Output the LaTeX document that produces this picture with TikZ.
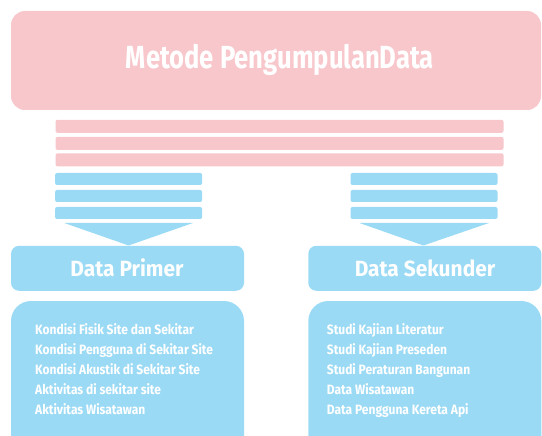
\documentclass[tikz,border=0pt]{standalone}
\usepackage{fontspec}
\setmainfont{Fira Sans}
\newfontfamily\titlefont{Fira Sans}[FakeStretch=0.80]
\newfontfamily\headfont{Fira Sans}[FakeStretch=0.95]
\newfontfamily\itemfont{Fira Sans}[FakeStretch=0.89]
\definecolor{pinkc}{HTML}{F7C7CB}
\definecolor{bluec}{HTML}{9BDAF5}
\begin{document}
\begin{tikzpicture}[x=1pt,y=-1pt,
  box/.style={inner sep=0pt, outer sep=0pt},
  pinkbox/.style={box, fill=pinkc, rounded corners=14pt},
  pinkbar/.style={box, fill=pinkc, rounded corners=2pt, minimum width=448pt, minimum height=13pt},
  bluebar/.style={box, fill=bluec, rounded corners=2pt, minimum width=147pt, minimum height=12pt},
  headbox/.style={box, fill=bluec, rounded corners=8pt, minimum width=233pt, minimum height=45pt},
  listbox/.style={box, fill=bluec, rounded corners=20pt, minimum width=233pt, minimum height=160pt},
  titletxt/.style={text=white, font=\titlefont\bfseries\fontsize{32}{36}\selectfont, anchor=base, inner sep=0pt},
  headtxt/.style={text=white, font=\headfont\bfseries\fontsize{22}{25}\selectfont, anchor=base, inner sep=0pt},
  itemtxt/.style={text=white, font=\itemfont\bfseries\fontsize{13.5}{15}\selectfont, anchor=base west, inner sep=0pt},
  tri/.style={fill=bluec}
]
\useasboundingbox (0,0) rectangle (542,436);
\clip (0,0) rectangle (542,436);
% title
\node[pinkbox, minimum width=530pt, minimum height=99pt] (top) at (276,60.5) {};
\node[titletxt] (title) at (280,69) {Metode PengumpulanData};
% pink bars
\node[pinkbar] (p1) at (279.5,126.3) {};
\node[pinkbar] (p2) at (279.5,143.4) {};
\node[pinkbar] (p3) at (279.5,159.8) {};
% blue bars
\node[bluebar] (l1) at (128.6,179) {};
\node[bluebar] (l2) at (128.6,196) {};
\node[bluebar] (l3) at (128.6,213) {};
\node[bluebar] (r1) at (424,179) {};
\node[bluebar] (r2) at (424,196) {};
\node[bluebar] (r3) at (424,213) {};
% arrow heads
\coordinate (ltip) at (128.6,245.5);
\coordinate (rtip) at (423.4,245.5);
\fill[tri] (64.3,223) -- (192.9,223) -- (ltip) -- cycle;
\fill[tri] (359.5,223) -- (489,223) -- (rtip) -- cycle;
% headers
\node[headbox] (hp) at (127.5,268.3) {};
\node[headbox] (hs) at (424.8,268.3) {};
\node[headtxt] (hpt) at (127,276.7) {Data Primer};
\node[headtxt] (hst) at (425,276.7) {Data Sekunder};
% lists
\node[listbox] (lp) at (127.5,381) {};
\node[listbox] (ls) at (424.8,381) {};
\node[itemtxt] (a1) at (35,334.3) {Kondisi Fisik Site dan Sekitar};
\node[itemtxt] (a2) at (35,354.3) {Kondisi Pengguna di Sekitar Site};
\node[itemtxt] (a3) at (35,374.3) {Kondisi Akustik di Sekitar Site};
\node[itemtxt] (a4) at (35,394.3) {Aktivitas di sekitar site};
\node[itemtxt] (a5) at (35,414.3) {Aktivitas Wisatawan};
\node[itemtxt] (b1) at (326.7,334.3) {Studi Kajian Literatur};
\node[itemtxt] (b2) at (326.7,354.3) {Studi Kajian Preseden};
\node[itemtxt] (b3) at (326.7,374.3) {Studi Peraturan Bangunan};
\node[itemtxt] (b4) at (326.7,394.3) {Data Wisatawan};
\node[itemtxt] (b5) at (326.7,414.3) {Data Pengguna Kereta Api};
\end{tikzpicture}
\end{document}
